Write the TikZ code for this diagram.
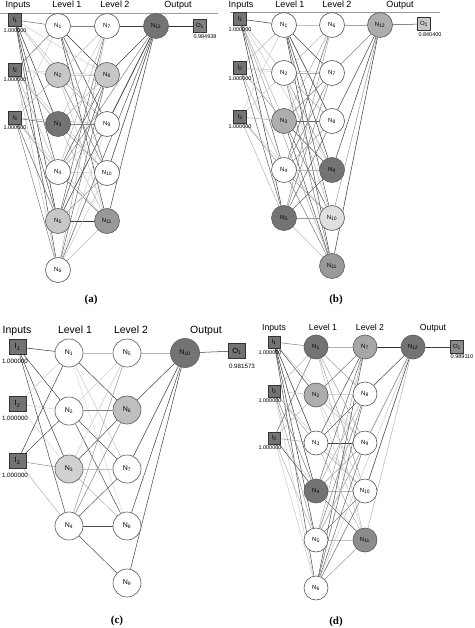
\documentclass[tikz,border=0pt]{standalone}
\usepackage{fontspec}
\setmainfont{Liberation Sans}
\newfontfamily\capfont{Liberation Serif}
\usetikzlibrary{backgrounds}
\tikzset{
  neuron/.style={circle, draw=black!65, line width=0.6pt, inner sep=0pt, minimum size=25pt, fill=white, font=\fontsize{6}{6}\selectfont},
  bigneuron/.style={neuron, minimum size=28pt, font=\fontsize{7}{7}\selectfont},
  inbox/.style={rectangle, draw=black!80, fill=black!55, line width=0.5pt, minimum width=13pt, minimum height=13pt, inner sep=0pt, font=\fontsize{6}{6}\selectfont},
  biginbox/.style={inbox, minimum width=17pt, minimum height=15pt, font=\fontsize{7.5}{7.5}\selectfont},
  val/.style={inner sep=0pt, font=\fontsize{5.5}{5.5}\selectfont},
  bigval/.style={inner sep=0pt, font=\fontsize{6.2}{6.2}\selectfont},
  head/.style={inner sep=0pt, anchor=base, font=\fontsize{9}{9}\selectfont},
  bighead/.style={inner sep=0pt, anchor=base, font=\fontsize{10.5}{10.5}\selectfont},
  smallhead/.style={inner sep=0pt, anchor=base, font=\fontsize{8.7}{8.7}\selectfont},
  captext/.style={inner sep=0pt, font=\capfont\bfseries\fontsize{11}{11}\selectfont},
  hrule/.style={draw=black!40, line width=0.7pt},
  edge/.style={line width=0.5pt},
  dk/.style={fill=black!55},
  md/.style={fill=black!40},
  ml/.style={fill=black!32},
  lt/.style={fill=black!22},
  vl/.style={fill=black!12}
}
\begin{document}
\begin{tikzpicture}[x=1pt,y=-1pt]
\useasboundingbox (0,0) rectangle (474,628);
\begin{scope}[on background layer]
\fill[white] (0,0) rectangle (474,628);
\end{scope}

% ================= (a) =================
\node[head] (aH1) at (18,7.5) {Inputs};
\node[head] (aH2) at (67,7.5) {Level 1};
\node[head] (aH3) at (115,7.5) {Level 2};
\node[head] (aH4) at (178,7.5) {Output};
\coordinate (aL0) at (0,13); \coordinate (aL1) at (218,13);
\draw[hrule] (aL0) -- (aL1);
\node[inbox] (aI1) at (15,20) {I\textsubscript{1}};
\node[inbox] (aI2) at (15,70) {I\textsubscript{2}};
\node[inbox] (aI3) at (15,118) {I\textsubscript{3}};
\node[val] (aV1) at (15,31) {1.000000};
\node[val] (aV2) at (15,80) {1.000000};
\node[val] (aV3) at (15,128) {1.000000};
\node[neuron] (aN1) at (58,26) {N\textsubscript{1}};
\node[neuron,lt] (aN2) at (58,75) {N\textsubscript{2}};
\node[neuron,dk] (aN3) at (58,124) {N\textsubscript{3}};
\node[neuron] (aN4) at (58,172) {N\textsubscript{4}};
\node[neuron,lt] (aN5) at (58,221) {N\textsubscript{5}};
\node[neuron] (aN6) at (58,270) {N\textsubscript{6}};
\node[neuron] (aN7) at (107,26) {N\textsubscript{7}};
\node[neuron,lt] (aN8) at (107,75) {N\textsubscript{8}};
\node[neuron] (aN9) at (107,124) {N\textsubscript{9}};
\node[neuron] (aN10) at (107,173) {N\textsubscript{10}};
\node[neuron,md] (aN11) at (107,221) {N\textsubscript{11}};
\node[neuron,dk] (aN12) at (156,26) {N\textsubscript{12}};
\node[inbox,fill=black!50] (aO1) at (200,26) {O\textsubscript{1}};
\node[val] (aVO) at (205,37) {0.984938};
\node[captext] (aC) at (91,300) {(a)};
\begin{scope}[on background layer]
\foreach \s/\t/\c in {
 aI1/aN1/60, aI1/aN2/25, aI1/aN3/80, aI1/aN4/70, aI1/aN5/80, aI1/aN6/70,
 aI2/aN1/55, aI2/aN2/25, aI2/aN3/40, aI2/aN4/30, aI2/aN5/70, aI2/aN6/25,
 aI3/aN1/20, aI3/aN2/30, aI3/aN3/60, aI3/aN4/40, aI3/aN5/60, aI3/aN6/50,
 aI1/aN8/20, aI1/aN9/25, aI2/aN8/20, aI2/aN10/20, aI3/aN9/25, aI3/aN11/20,
 aN1/aN7/50, aN1/aN8/80, aN1/aN9/70, aN1/aN10/60, aN1/aN11/75,
 aN2/aN7/25, aN2/aN8/20, aN2/aN9/30, aN2/aN10/50, aN2/aN11/25,
 aN3/aN7/20, aN3/aN8/30, aN3/aN9/50, aN3/aN10/40, aN3/aN11/30,
 aN4/aN7/30, aN4/aN8/65, aN4/aN9/25, aN4/aN10/20, aN4/aN11/50,
 aN5/aN7/60, aN5/aN8/70, aN5/aN9/30, aN5/aN10/40, aN5/aN11/80,
 aN6/aN7/35, aN6/aN8/60, aN6/aN9/20, aN6/aN10/20, aN6/aN11/25,
 aN7/aN12/75, aN8/aN12/75, aN9/aN12/75, aN10/aN12/75, aN11/aN12/75,
 aN4/aN12/50, aN5/aN12/70, aN6/aN12/65, aN12/aO1/80}
 \draw[edge, draw=black!\c] (\s) -- (\t);
\end{scope}

% ================= (b) =================
\node[head] (bH1) at (241,7.5) {Inputs};
\node[head] (bH2) at (290,7.5) {Level 1};
\node[head] (bH3) at (337,7.5) {Level 2};
\node[head] (bH4) at (400,7.5) {Output};
\coordinate (bL0) at (230,12); \coordinate (bL1) at (440,12);
\draw[hrule] (bL0) -- (bL1);
\node[inbox] (bI1) at (240,19) {I\textsubscript{1}};
\node[inbox] (bI2) at (240,68) {I\textsubscript{2}};
\node[inbox] (bI3) at (240,117) {I\textsubscript{3}};
\node[val] (bV1) at (240,30) {1.000000};
\node[val] (bV2) at (240,79) {1.000000};
\node[val] (bV3) at (240,127) {1.000000};
\node[neuron] (bN1) at (284,25) {N\textsubscript{1}};
\node[neuron] (bN2) at (284,73) {N\textsubscript{2}};
\node[neuron,ml] (bN3) at (284,121) {N\textsubscript{3}};
\node[neuron] (bN4) at (284,170) {N\textsubscript{4}};
\node[neuron,dk] (bN5) at (284,218) {N\textsubscript{5}};
\node[neuron] (bN6) at (332,25) {N\textsubscript{6}};
\node[neuron] (bN7) at (332,73) {N\textsubscript{7}};
\node[neuron] (bN8) at (332,121) {N\textsubscript{8}};
\node[neuron,dk] (bN9) at (332,170) {N\textsubscript{9}};
\node[neuron,vl] (bN10) at (332,218) {N\textsubscript{10}};
\node[neuron,md] (bN11) at (332,266) {N\textsubscript{11}};
\node[neuron,ml] (bN12) at (380,25) {N\textsubscript{12}};
\node[inbox,fill=black!22] (bO1) at (424,24) {O\textsubscript{1}};
\node[val] (bVO) at (430,35) {0.840400};
\node[captext] (bC) at (336,300) {(b)};
\begin{scope}[on background layer]
\foreach \s/\t/\c in {
 bI1/bN1/80, bI1/bN2/25, bI1/bN3/30, bI1/bN4/65, bI1/bN5/80,
 bI2/bN1/30, bI2/bN2/25, bI2/bN3/40, bI2/bN4/30, bI2/bN5/60,
 bI3/bN1/20, bI3/bN2/20, bI3/bN3/35, bI3/bN4/40, bI3/bN5/30,
 bI1/bN9/20, bI2/bN7/20, bI3/bN10/20, bI1/bN11/35,
 bN1/bN6/25, bN1/bN7/70, bN1/bN8/80, bN1/bN9/80, bN1/bN10/70, bN1/bN11/75,
 bN2/bN6/25, bN2/bN7/30, bN2/bN8/30, bN2/bN9/40, bN2/bN10/30, bN2/bN11/50,
 bN3/bN6/30, bN3/bN7/40, bN3/bN8/60, bN3/bN9/70, bN3/bN10/60, bN3/bN11/70,
 bN4/bN6/60, bN4/bN7/50, bN4/bN8/40, bN4/bN9/30, bN4/bN10/40, bN4/bN11/50,
 bN5/bN6/40, bN5/bN7/50, bN5/bN8/60, bN5/bN9/60, bN5/bN10/40, bN5/bN11/25,
 bN6/bN12/35, bN7/bN12/25, bN8/bN12/70, bN9/bN12/75, bN10/bN12/40, bN11/bN12/80,
 bN3/bN12/40, bN12/bO1/70}
 \draw[edge, draw=black!\c] (\s) -- (\t);
\end{scope}

% ================= (c) =================
\node[bighead] (cH1) at (17,333) {Inputs};
\node[bighead] (cH2) at (75,333) {Level 1};
\node[bighead] (cH3) at (131,333) {Level 2};
\node[bighead] (cH4) at (206,333) {Output};
\node[biginbox] (cI1) at (17.5,347) {I\textsubscript{1}};
\node[biginbox] (cI2) at (17.5,404) {I\textsubscript{2}};
\node[biginbox] (cI3) at (17.5,461) {I\textsubscript{3}};
\node[bigval] (cV1) at (15,361) {1.000000};
\node[bigval] (cV2) at (15,418) {1.000000};
\node[bigval] (cV3) at (15,475) {1.000000};
\node[bigneuron] (cN1) at (69,353) {N\textsubscript{1}};
\node[bigneuron] (cN2) at (69,411) {N\textsubscript{2}};
\node[bigneuron,fill=black!18] (cN3) at (69,469) {N\textsubscript{3}};
\node[bigneuron] (cN4) at (69,526) {N\textsubscript{4}};
\node[bigneuron] (cN5) at (127,353) {N\textsubscript{5}};
\node[bigneuron,fill=black!25] (cN6) at (127,410) {N\textsubscript{6}};
\node[bigneuron] (cN7) at (127,469) {N\textsubscript{7}};
\node[bigneuron] (cN8) at (127,526) {N\textsubscript{8}};
\node[bigneuron] (cN9) at (127,583) {N\textsubscript{9}};
\node[bigneuron,dk,minimum size=29pt] (cN10) at (185,353) {N\textsubscript{10}};
\node[biginbox] (cO1) at (237,351) {O\textsubscript{1}};
\node[bigval] (cVO) at (242,366) {0.981573};
\node[captext] (cC) at (117,621) {(c)};
\begin{scope}[on background layer]
\foreach \s/\t/\c in {
 cI1/cN1/80, cI1/cN2/75, cI1/cN3/75, cI1/cN4/70,
 cI2/cN1/20, cI2/cN2/20, cI2/cN3/18,
 cI3/cN1/75, cI3/cN2/70, cI3/cN3/45, cI3/cN4/30,
 cN1/cN5/25, cN1/cN6/75, cN1/cN7/20, cN1/cN8/15,
 cN2/cN5/18, cN2/cN6/75, cN2/cN7/65, cN2/cN8/70,
 cN3/cN5/20, cN3/cN6/70, cN3/cN7/25, cN3/cN8/30,
 cN4/cN5/40, cN4/cN6/45, cN4/cN7/65, cN4/cN8/70, cN4/cN9/70,
 cN5/cN10/30, cN6/cN10/75, cN7/cN10/75, cN8/cN10/75, cN9/cN10/75,
 cN10/cO1/80}
 \draw[edge, draw=black!\c] (\s) -- (\t);
\end{scope}

% ================= (d) =================
\node[smallhead] (dH1) at (274,330) {Inputs};
\node[smallhead] (dH2) at (323,330) {Level 1};
\node[smallhead] (dH3) at (370,330) {Level 2};
\node[smallhead] (dH4) at (433,330) {Output};
\node[inbox,minimum width=12pt,minimum height=12pt] (dI1) at (274,342) {I\textsubscript{1}};
\node[inbox,minimum width=12pt,minimum height=12pt] (dI2) at (274,391) {I\textsubscript{2}};
\node[inbox,minimum width=12pt,minimum height=12pt] (dI3) at (274,438) {I\textsubscript{3}};
\node[val] (dV1) at (270,353) {1.000000};
\node[val] (dV2) at (270,401) {1.000000};
\node[val] (dV3) at (270,448) {1.000000};
\node[neuron,minimum size=24pt,dk] (dN1) at (316,347) {N\textsubscript{1}};
\node[neuron,minimum size=24pt,ml] (dN2) at (316,395) {N\textsubscript{2}};
\node[neuron,minimum size=24pt] (dN3) at (316,443) {N\textsubscript{3}};
\node[neuron,minimum size=24pt,dk] (dN4) at (316,491) {N\textsubscript{4}};
\node[neuron,minimum size=24pt] (dN5) at (316,540) {N\textsubscript{5}};
\node[neuron,minimum size=24pt] (dN6) at (316,588) {N\textsubscript{6}};
\node[neuron,minimum size=24pt,fill=black!35] (dN7) at (365,347) {N\textsubscript{7}};
\node[neuron,minimum size=24pt] (dN8) at (365,394) {N\textsubscript{8}};
\node[neuron,minimum size=24pt] (dN9) at (365,443) {N\textsubscript{9}};
\node[neuron,minimum size=24pt] (dN10) at (365,491) {N\textsubscript{10}};
\node[neuron,minimum size=24pt,fill=black!45] (dN11) at (365,540) {N\textsubscript{11}};
\node[neuron,minimum size=24pt,dk] (dN12) at (413,347) {N\textsubscript{12}};
\node[inbox,fill=black!45] (dO1) at (457,347) {O\textsubscript{1}};
\node[val] (dVO) at (462,357) {0.989110};
\node[captext] (dC) at (336,622) {(d)};
\begin{scope}[on background layer]
\foreach \s/\t/\c in {
 dI1/dN1/50, dI1/dN2/70, dI1/dN3/80, dI1/dN4/80, dI1/dN5/75, dI1/dN6/70,
 dI2/dN1/30, dI2/dN2/25, dI2/dN3/35, dI2/dN4/50, dI2/dN5/40, dI2/dN6/20,
 dI3/dN1/60, dI3/dN2/30, dI3/dN3/40, dI3/dN4/70, dI3/dN5/30, dI3/dN6/20,
 dI1/dN9/20, dI2/dN10/20, dI3/dN11/15,
 dN1/dN7/30, dN1/dN8/40, dN1/dN9/35, dN1/dN10/40, dN1/dN11/25,
 dN2/dN7/55, dN2/dN8/25, dN2/dN9/25, dN2/dN10/20, dN2/dN11/20,
 dN3/dN7/70, dN3/dN8/60, dN3/dN9/75, dN3/dN10/35, dN3/dN11/30,
 dN4/dN7/60, dN4/dN8/35, dN4/dN9/40, dN4/dN10/30, dN4/dN11/60,
 dN5/dN7/35, dN5/dN8/50, dN5/dN9/45, dN5/dN10/50, dN5/dN11/25,
 dN6/dN7/70, dN6/dN8/60, dN6/dN9/60, dN6/dN10/60, dN6/dN11/40,
 dN7/dN12/80, dN8/dN12/75, dN9/dN12/70, dN10/dN12/75, dN11/dN12/30,
 dN5/dN12/20, dN6/dN12/20, dN12/dO1/75}
 \draw[edge, draw=black!\c] (\s) -- (\t);
\end{scope}
\end{tikzpicture}
\end{document}
